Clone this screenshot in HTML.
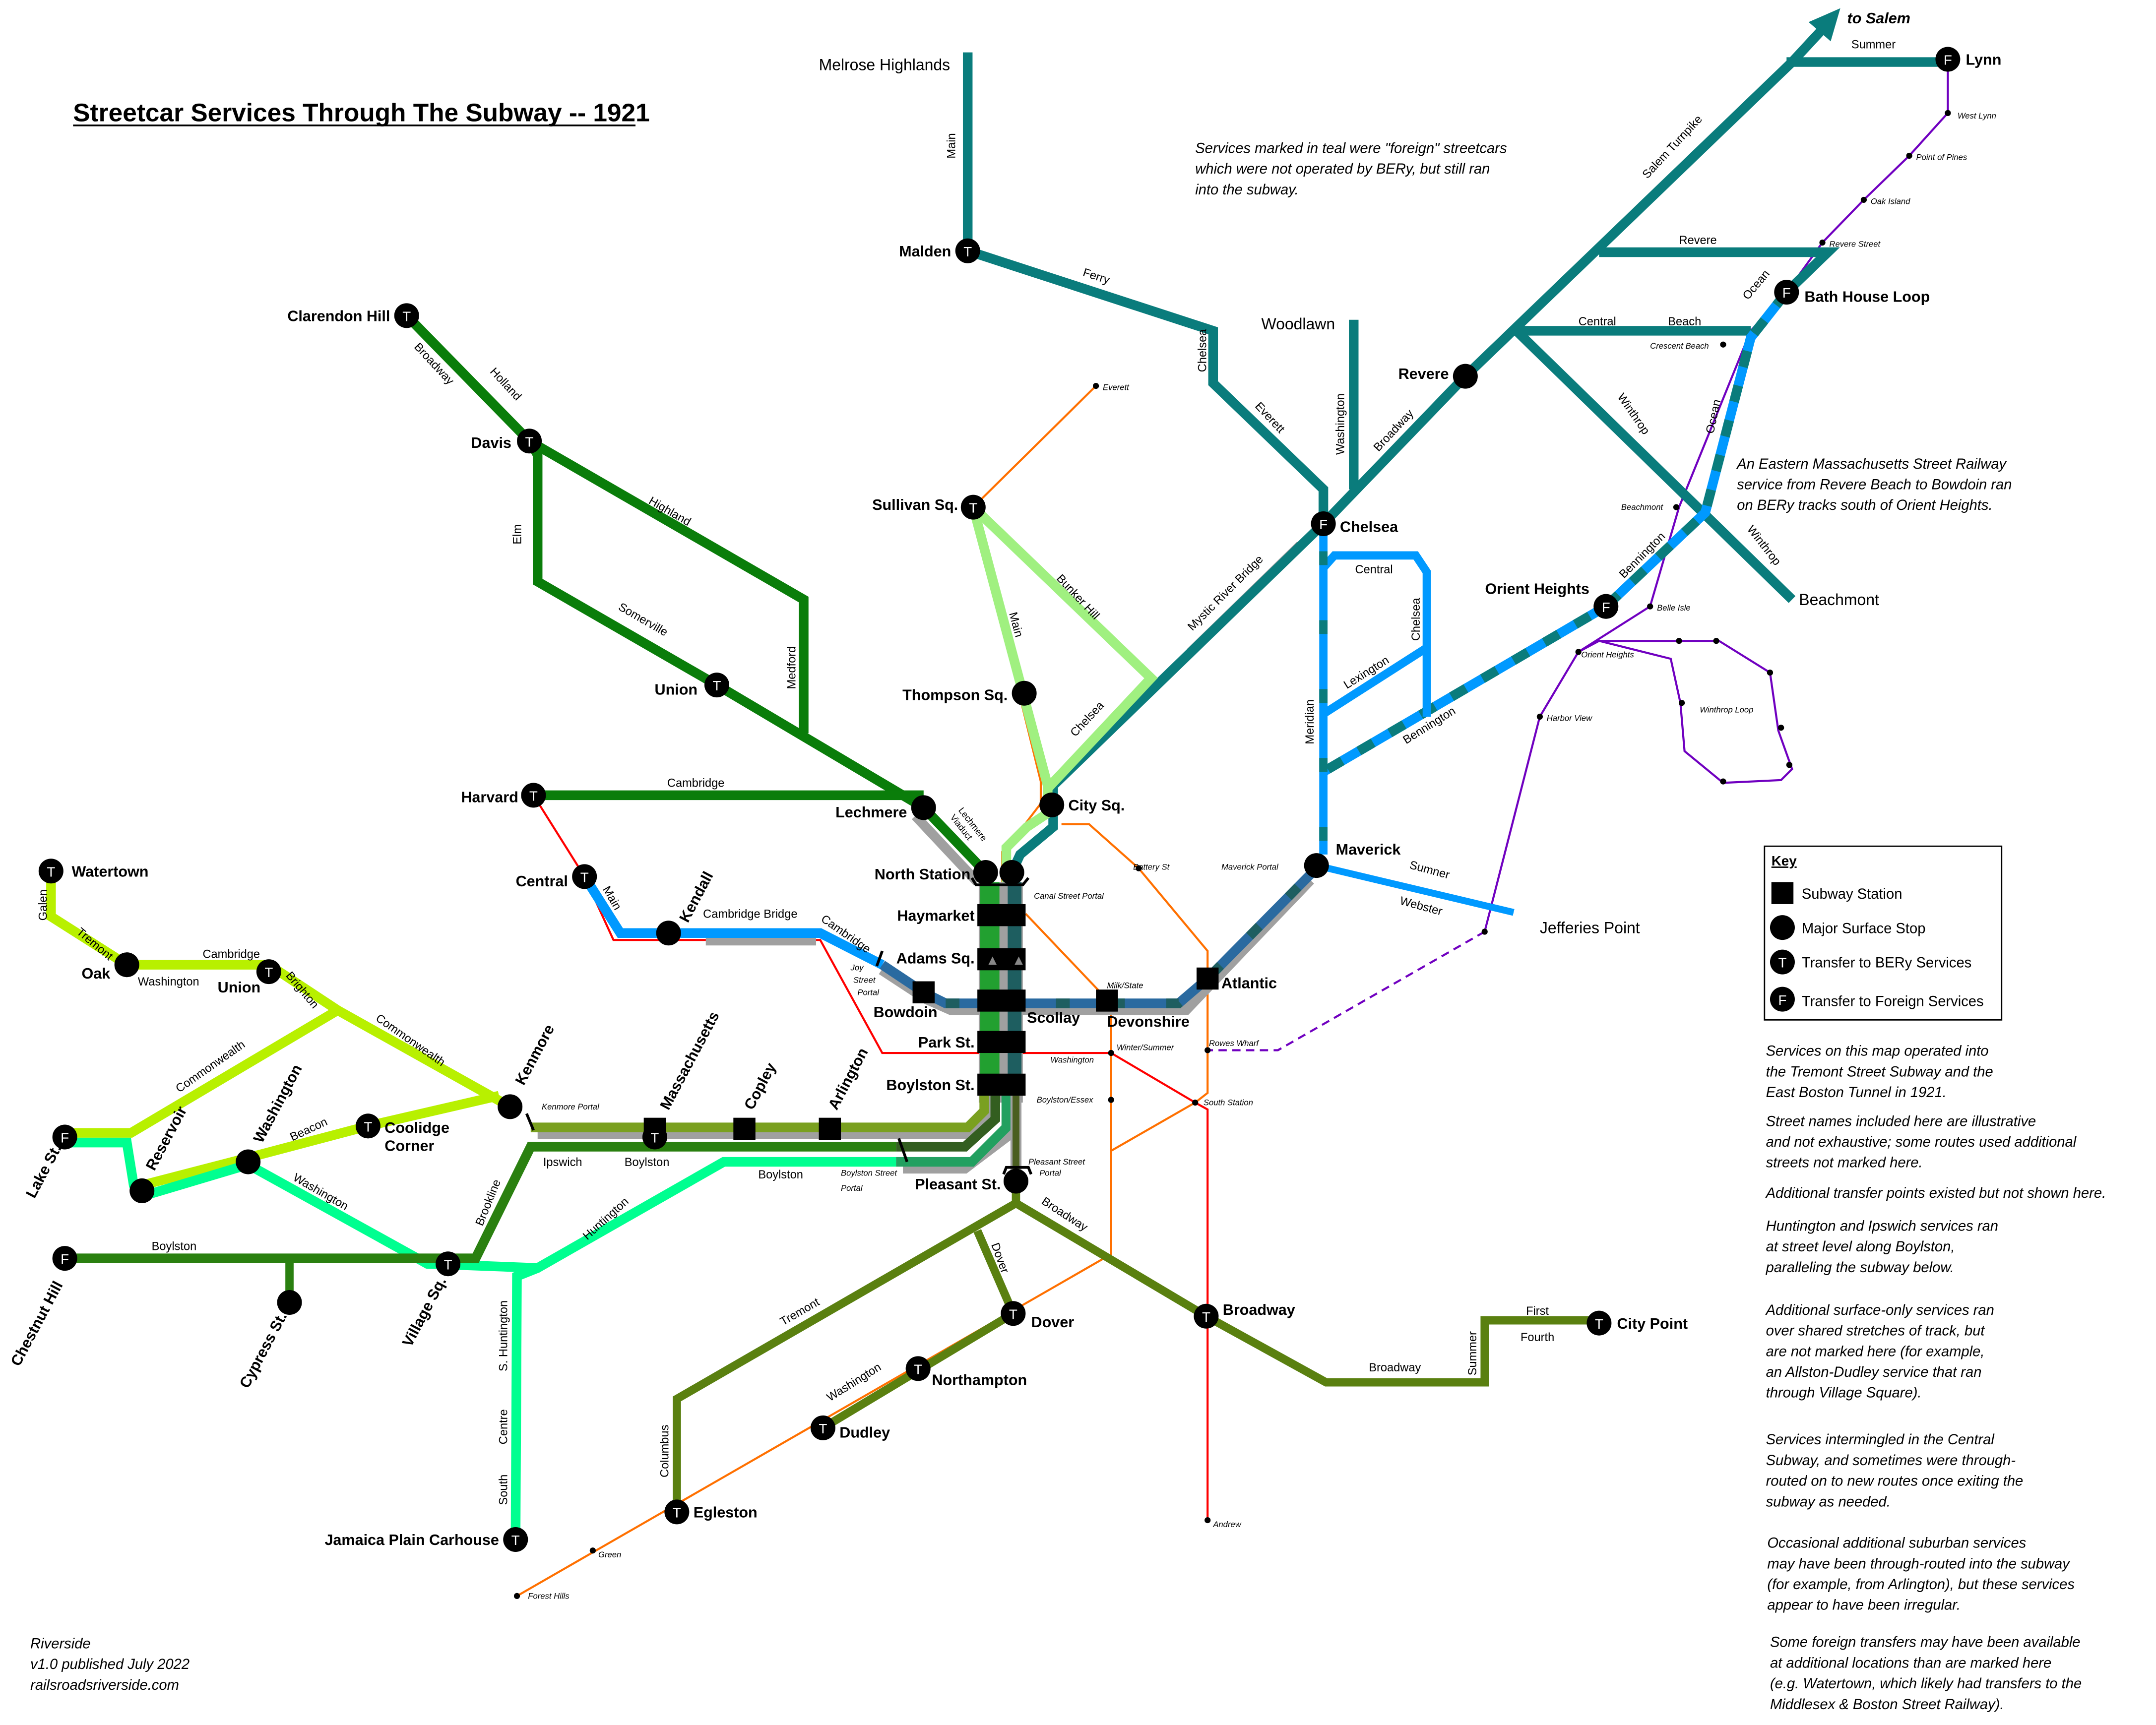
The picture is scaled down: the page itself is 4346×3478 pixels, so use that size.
<!DOCTYPE html>
<html><head><meta charset="utf-8"><style>
html,body{margin:0;padding:0;background:#fff;}
svg{display:block;}
text{font-family:"Liberation Sans","DejaVu Sans",sans-serif;}
.b{font-weight:bold;font-size:11px;}
.s{font-size:8.5px;}
.i{font-style:italic;font-size:6px;}
.n{font-style:italic;font-size:10.5px;}
</style></head><body>
<svg width="4346" height="3478" viewBox="0 0 1564 1251.6" preserveAspectRatio="none" xmlns="http://www.w3.org/2000/svg">
<rect width="1564" height="1252" fill="#fff"/>
<g fill="none" stroke-linejoin="miter">
<polyline stroke="#ff7000" stroke-width="1.5" points="795,280 706,368 755,567 755,583 742,600 727,618 727,640"/>
<polyline stroke="#ff7000" stroke-width="1.5" points="770,598 790,598 826,630 876,690 876,793 867,800 806,835"/>
<polyline stroke="#ff7000" stroke-width="1.5" points="744,663 803,725 806,725 806,910 375,1158"/>
<polyline stroke="#ff0000" stroke-width="1.5" points="387,577 424,636 445,682 595,682 640,764 806,764 867,800 876,805 876,1103"/>
<polyline stroke="#7000c0" stroke-width="1.5" points="1413,43 1413,82 1385,113 1352,145 1322,176 1296,212 1270,240 1218,368 1197,440 1145,473 1117,520 1077,676"/>
<polyline stroke="#7000c0" stroke-width="1.5" stroke-dasharray="6,4" points="1077,676 927,762 876,762"/>
<polyline stroke="#7000c0" stroke-width="1.5" points="1145,473 1160,465 1247,465 1284,488 1290,530 1300,558 1292,566 1250,568 1222,545 1219,510 1212,478 1160,465"/>
<polyline stroke="#0a7d0a" stroke-width="7" points="295,229 384,320 583,435 583,532"/>
<polyline stroke="#0a7d0a" stroke-width="7" points="384,320 390,330 390,422 520,497 670,586"/>
<polyline stroke="#0a7d0a" stroke-width="7" points="387,577 670,577"/>
<polyline stroke="#a0a0a0" stroke-width="7" points="664,592 709,640"/>
<polyline stroke="#0a7d0a" stroke-width="7" points="670,586 715,633"/>
<polyline stroke="#0a7c7c" stroke-width="7" points="702,38 702,182 880,240 880,278 960,355 960,380"/>
<polyline stroke="#0a7c7c" stroke-width="7" points="982,232 982,355"/>
<polyline stroke="#0a7c7c" stroke-width="7" points="960,380 1063,273 1300,45 1325,18"/>
<polygon fill="#0a7c7c" stroke="none" points="1335,6 1312,16 1328,30"/>
<polyline stroke="#0a7c7c" stroke-width="7" points="1296,45 1413,45"/>
<polyline stroke="#0a7c7c" stroke-width="7" points="1160,183 1326,183 1296,212"/>
<polyline stroke="#0a7c7c" stroke-width="7" points="1100,240 1270,240"/>
<polyline stroke="#0a7c7c" stroke-width="7" points="1100,240 1300,435"/>
<polyline stroke="#0099ff" stroke-width="7" points="1296,212 1270,245 1237,372 1165,440 960,560"/>
<polyline stroke="#0a7c7c" stroke-width="7" stroke-dasharray="12,14" points="1296,212 1270,245 1237,372 1165,440 960,560"/>
<polyline stroke="#a0a0a0" stroke-width="3" points="862,472 942,394"/>
<polyline stroke="#0a7c7c" stroke-width="7" points="960,380 764,570 764,600 740,620 734,633"/>
<polyline stroke="#a0f080" stroke-width="7" points="706,368 760,570"/>
<polyline stroke="#a0f080" stroke-width="7" points="706,368 835,492 760,572 760,590 745,600 730,615 730,645"/>
<polyline stroke="#0099ff" stroke-width="6" points="960,380 960,620"/>
<polyline stroke="#0099ff" stroke-width="6" points="960,412 968,403 1027,403 1035,415 1035,520"/>
<polyline stroke="#0099ff" stroke-width="6" points="960,518 1035,470"/>
<polyline stroke="#0a7c7c" stroke-width="6" stroke-dasharray="10,40" points="960,400 960,620"/>
<polyline stroke="#0099ff" stroke-width="5" points="955,628 1098,662"/>
<polyline stroke="#a0a0a0" stroke-width="8" points="512,682 592,682"/>
<polyline stroke="#0099ff" stroke-width="7" points="424,636 450,677 595,677 640,700"/>
<polyline stroke="#a0a0a0" stroke-width="9" points="640,703 672,724 690,732 860,732 950,638"/>
<polyline stroke="#2a6aa0" stroke-width="7" points="640,700 670,720 686,728 855,728 876,710 955,630"/>
<polyline stroke="#1e5e60" stroke-width="7" stroke-dasharray="10,30" points="686,728 855,728 876,710 955,630"/>
<polyline stroke="#b8f000" stroke-width="7" points="37,632 37,665 92,700 195,700 245,733 370,803"/>
<polyline stroke="#b8f000" stroke-width="7" points="245,733 95,822 47,822"/>
<polyline stroke="#b8f000" stroke-width="7" points="103,860 180,840 267,817 362,795"/>
<polyline stroke="#00ff90" stroke-width="7" points="47,829 92,829 97,860 103,868 180,845 310,917 390,920 525,843 650,843"/>
<polyline stroke="#00ff90" stroke-width="7" points="390,920 375,926 374,1117"/>
<polyline stroke="#2a8010" stroke-width="7" points="47,913 325,913 345,913 385,832 650,832"/>
<polyline stroke="#2a8010" stroke-width="6" points="210,913 210,945"/>
<rect x="710" y="640" width="32" height="160" fill="#a0a0a0" stroke="none"/>
<rect x="711" y="640" width="14" height="160" fill="#22a030" stroke="none"/>
<rect x="731" y="640" width="10" height="160" fill="#1e5e60" stroke="none"/>
<polyline stroke="#a0a0a0" stroke-width="9" points="390,822 705,822 720,808 720,795"/>
<polyline stroke="#7aa020" stroke-width="7" points="385,818 702,818 714,806 714,795"/>
<polyline stroke="#a0a0a0" stroke-width="7" points="655,848 700,848 737,820"/>
<polyline stroke="#335e20" stroke-width="7" points="650,832 700,832 722,812 722,795"/>
<polyline stroke="#22a060" stroke-width="7" points="650,843 705,843 730,818 730,795"/>
<polyline stroke="#a0a0a0" stroke-width="8" points="737,795 737,850"/>
<polyline stroke="#4a5e20" stroke-width="5" points="737,795 737,850"/>
<polyline stroke="#5a8010" stroke-width="6" points="737,860 737,873 491,1015 491,1097"/>
<polyline stroke="#5a8010" stroke-width="6" points="709,893 735,953 597,1036"/>
<polyline stroke="#5a8010" stroke-width="6" points="737,873 875,955 962,1003 1077,1003 1077,958 1160,958"/>
</g>
<g stroke="#000" stroke-width="2" fill="none">
<polyline points="705,637 708,642 742,642 746,637"/>
<polyline points="728,852 730,847 746,847 748,852"/>
<line x1="640" y1="690" x2="636" y2="701"/>
<line x1="382" y1="808" x2="387" y2="820"/>
<line x1="652" y1="826" x2="658" y2="843"/>
</g>
<g fill="#000">
<rect x="709" y="656" width="35" height="16"/><rect x="709" y="688" width="35" height="16"/>
<rect x="709" y="718" width="35" height="16"/><rect x="709" y="748" width="35" height="16"/>
<rect x="709" y="779" width="35" height="16"/>
<rect x="662" y="712" width="16" height="16"/><rect x="795" y="718" width="16" height="16"/>
<rect x="868" y="702" width="16" height="16"/>
<rect x="532" y="811" width="16" height="16"/><rect x="594" y="811" width="16" height="16"/>
<rect x="467" y="811" width="16" height="16"/>
</g>
<polygon fill="#888" points="717,700 720,694 723,700"/><polygon fill="#888" points="736,700 739,694 742,700"/>
<g fill="#000">
<circle cx="670" cy="586" r="9"/><circle cx="485" cy="677" r="9"/>
<circle cx="715" cy="633" r="9"/><circle cx="734" cy="633" r="9"/>
<circle cx="763" cy="584" r="9"/><circle cx="743" cy="503" r="9"/>
<circle cx="1063" cy="273" r="9"/><circle cx="955" cy="628" r="9"/>
<circle cx="92" cy="700" r="9"/><circle cx="370" cy="803" r="9"/>
<circle cx="103" cy="864" r="9"/><circle cx="180" cy="843" r="9"/>
<circle cx="210" cy="945" r="9"/><circle cx="737" cy="857" r="9"/>
</g>
<g fill="#000">
<circle cx="795" cy="280" r="2.2"/><circle cx="826" cy="630" r="2.2"/><circle cx="806" cy="764" r="2.2"/>
<circle cx="806" cy="798" r="2.2"/><circle cx="867" cy="800" r="2.2"/><circle cx="876" cy="762" r="2.2"/>
<circle cx="876" cy="1103" r="2.2"/><circle cx="430" cy="1125" r="2.2"/><circle cx="375" cy="1158" r="2.2"/>
<circle cx="1413" cy="82" r="2.2"/><circle cx="1385" cy="113" r="2.2"/><circle cx="1352" cy="145" r="2.2"/>
<circle cx="1322" cy="176" r="2.2"/><circle cx="1250" cy="250" r="2.2"/><circle cx="1216" cy="368" r="2.2"/>
<circle cx="1197" cy="440" r="2.2"/><circle cx="1145" cy="473" r="2.2"/><circle cx="1117" cy="520" r="2.2"/>
<circle cx="1077" cy="676" r="2.2"/><circle cx="1218" cy="465" r="2.2"/><circle cx="1245" cy="465" r="2.2"/>
<circle cx="1284" cy="488" r="2.2"/><circle cx="1292" cy="528" r="2.2"/><circle cx="1298" cy="555" r="2.2"/>
<circle cx="1250" cy="567" r="2.2"/><circle cx="1220" cy="510" r="2.2"/>
</g>
<g font-family="Liberation Sans,sans-serif" font-size="10" text-anchor="middle">
<g fill="#000">
<circle cx="295" cy="229" r="9"/><circle cx="384" cy="320" r="9"/><circle cx="520" cy="497" r="9"/>
<circle cx="387" cy="577" r="9"/><circle cx="424" cy="636" r="9"/><circle cx="706" cy="368" r="9"/>
<circle cx="702" cy="182" r="9"/><circle cx="37" cy="632" r="9"/><circle cx="195" cy="705" r="9"/>
<circle cx="267" cy="817" r="9"/><circle cx="475" cy="825" r="9"/><circle cx="325" cy="917" r="9"/>
<circle cx="374" cy="1117" r="9"/><circle cx="735" cy="953" r="9"/><circle cx="666" cy="993" r="9"/>
<circle cx="597" cy="1036" r="9"/><circle cx="491" cy="1097" r="9"/><circle cx="875" cy="955" r="9"/>
<circle cx="1160" cy="960" r="9"/>
<circle cx="960" cy="380" r="9"/><circle cx="1165" cy="440" r="9"/><circle cx="1296" cy="212" r="9"/>
<circle cx="1413" cy="43" r="9"/><circle cx="47" cy="825" r="9"/><circle cx="47" cy="913" r="9"/>
</g>
<g fill="#fff">
<text x="295" y="233">T</text><text x="384" y="324">T</text><text x="520" y="501">T</text>
<text x="387" y="581">T</text><text x="424" y="640">T</text><text x="706" y="372">T</text>
<text x="702" y="186">T</text><text x="37" y="636">T</text><text x="195" y="709">T</text>
<text x="267" y="821">T</text><text x="475" y="829">T</text><text x="325" y="921">T</text>
<text x="374" y="1121">T</text><text x="735" y="957">T</text><text x="666" y="997">T</text>
<text x="597" y="1040">T</text><text x="491" y="1101">T</text><text x="875" y="959">T</text>
<text x="1160" y="964">T</text>
<text x="960" y="384">F</text><text x="1165" y="444">F</text><text x="1296" y="216">F</text>
<text x="1413" y="47">F</text><text x="47" y="829">F</text><text x="47" y="917">F</text>
</g></g>
<g class="b" fill="#000">
<text x="283" y="233" text-anchor="end">Clarendon Hill</text>
<text x="371" y="325" text-anchor="end">Davis</text>
<text x="506" y="504" text-anchor="end">Union</text>
<text x="376" y="582" text-anchor="end">Harvard</text>
<text x="412" y="643" text-anchor="end">Central</text>
<text x="658" y="593" text-anchor="end">Lechmere</text>
<text x="704" y="638" text-anchor="end">North Station</text>
<text x="775" y="588">City Sq.</text>
<text x="731" y="508" text-anchor="end">Thompson Sq.</text>
<text x="695" y="370" text-anchor="end">Sullivan Sq.</text>
<text x="690" y="186" text-anchor="end">Malden</text>
<text x="972" y="386">Chelsea</text>
<text x="1051" y="275" text-anchor="end">Revere</text>
<text x="1153" y="431" text-anchor="end">Orient Heights</text>
<text x="1309" y="219">Bath House Loop</text>
<text x="1426" y="47">Lynn</text>
<text x="969" y="620">Maverick</text>
<text x="886" y="717">Atlantic</text>
<text x="803" y="745">Devonshire</text>
<text x="680" y="738" text-anchor="end">Bowdoin</text>
<text x="707" y="668" text-anchor="end">Haymarket</text>
<text x="707" y="699" text-anchor="end">Adams Sq.</text>
<text x="745" y="742">Scollay</text>
<text x="707" y="760" text-anchor="end">Park St.</text>
<text x="707" y="791" text-anchor="end">Boylston St.</text>
<text x="726" y="863" text-anchor="end">Pleasant St.</text>
<text x="52" y="636">Watertown</text>
<text x="80" y="710" text-anchor="end">Oak</text>
<text x="189" y="720" text-anchor="end">Union</text>
<text x="279" y="822">Coolidge</text><text x="279" y="835">Corner</text>
<text x="362" y="1121" text-anchor="end">Jamaica Plain Carhouse</text>
<text x="748" y="963">Dover</text>
<text x="676" y="1005">Northampton</text>
<text x="609" y="1043">Dudley</text>
<text x="503" y="1101">Egleston</text>
<text x="887" y="954">Broadway</text>
<text x="1173" y="964">City Point</text>
<text x="1340" y="17" font-style="italic">to Salem</text>
<text transform="translate(499,670) rotate(-62)">Kendall</text>
<text transform="translate(380,788) rotate(-62)">Kenmore</text>
<text transform="translate(485,806) rotate(-62)">Massachusetts</text>
<text transform="translate(546,806) rotate(-62)">Copley</text>
<text transform="translate(607,806) rotate(-62)">Arlington</text>
<text transform="translate(112,850) rotate(-62)">Reservoir</text>
<text transform="translate(190,830) rotate(-62)">Washington</text>
<text transform="translate(25,870) rotate(-62)">Lake St.</text>
<text transform="translate(14,992) rotate(-62)">Chestnut Hill</text>
<text transform="translate(180,1008) rotate(-62)">Cypress St.</text>
<text transform="translate(298,978) rotate(-62)">Village Sq.</text>
</g>
<text x="915" y="239" font-size="11.5">Woodlawn</text>
<text x="594" y="51" font-size="11.5">Melrose Highlands</text>
<text x="1305" y="439" font-size="11.5">Beachmont</text>
<text x="1117" y="677" font-size="11.5">Jefferies Point</text>
<g class="s" fill="#000">
<text transform="translate(693,115) rotate(-90)">Main</text>
<text transform="translate(785,200) rotate(18)">Ferry</text>
<text transform="translate(875,270) rotate(-90)">Chelsea</text>
<text transform="translate(910,295) rotate(47)">Everett</text>
<text transform="translate(975,330) rotate(-90)">Washington</text>
<text transform="translate(1000,328) rotate(-47)">Broadway</text>
<text transform="translate(1195,130) rotate(-47)">Salem Turnpike</text>
<text x="1343" y="35">Summer</text>
<text x="1218" y="177">Revere</text>
<text x="1145" y="236">Central</text><text x="1210" y="236">Beach</text>
<text transform="translate(1268,218) rotate(-50)">Ocean</text>
<text transform="translate(1243,315) rotate(-78)">Ocean</text>
<text transform="translate(1173,288) rotate(55)">Winthrop</text>
<text transform="translate(1267,384) rotate(52)">Winthrop</text>
<text transform="translate(1178,420) rotate(-45)">Bennington</text>
<text transform="translate(1020,540) rotate(-32)">Bennington</text>
<text transform="translate(977,500) rotate(-32)">Lexington</text>
<text x="983" y="416">Central</text>
<text transform="translate(1030,465) rotate(-90)">Chelsea</text>
<text transform="translate(953,540) rotate(-90)">Meridian</text>
<text transform="translate(1022,630) rotate(15)">Sumner</text>
<text transform="translate(1015,656) rotate(15)">Webster</text>
<text transform="translate(865,458) rotate(-45)">Mystic River Bridge</text>
<text transform="translate(766,420) rotate(47)">Bunker Hill</text>
<text transform="translate(732,445) rotate(75)">Main</text>
<text transform="translate(780,535) rotate(-47)">Chelsea</text>
<text transform="translate(355,270) rotate(47)">Holland</text>
<text transform="translate(300,252) rotate(47)">Broadway</text>
<text transform="translate(470,365) rotate(30)">Highland</text>
<text transform="translate(448,442) rotate(30)">Somerville</text>
<text transform="translate(378,395) rotate(-90)">Elm</text>
<text transform="translate(577,500) rotate(-90)">Medford</text>
<text x="484" y="571">Cambridge</text>
<text transform="translate(695,588) rotate(52)" font-size="6.5">Lechmere</text>
<text transform="translate(689,593) rotate(52)" font-size="6.5">Viaduct</text>
<text transform="translate(437,645) rotate(60)">Main</text>
<text x="510" y="666">Cambridge Bridge</text>
<text transform="translate(595,668) rotate(35)">Cambridge</text>
<text transform="translate(34,668) rotate(-90)">Galen</text>
<text transform="translate(55,677) rotate(40)">Tremont</text>
<text x="147" y="695">Cambridge</text>
<text x="100" y="715">Washington</text>
<text transform="translate(207,708) rotate(50)">Brighton</text>
<text transform="translate(272,740) rotate(35)">Commonwealth</text>
<text transform="translate(130,793) rotate(-35)">Commonwealth</text>
<text transform="translate(212,828) rotate(-25)">Beacon</text>
<text transform="translate(212,856) rotate(30)">Washington</text>
<text x="110" y="907">Boylston</text>
<text transform="translate(350,890) rotate(-68)">Brookline</text>
<text x="394" y="846">Ipswich</text><text x="453" y="846">Boylston</text>
<text x="550" y="855">Boylston</text>
<text transform="translate(426,900) rotate(-42)">Huntington</text>
<text transform="translate(368,995) rotate(-90)">S. Huntington</text>
<text transform="translate(368,1048) rotate(-90)">Centre</text>
<text transform="translate(368,1092) rotate(-90)">South</text>
<text transform="translate(568,962) rotate(-30)">Tremont</text>
<text transform="translate(485,1072) rotate(-90)">Columbus</text>
<text transform="translate(719,903) rotate(70)">Dover</text>
<text transform="translate(602,1017) rotate(-32)">Washington</text>
<text transform="translate(755,873) rotate(33)">Broadway</text>
<text x="993" y="995">Broadway</text>
<text transform="translate(1071,998) rotate(-90)">Summer</text>
<text x="1107" y="954">First</text><text x="1103" y="973">Fourth</text>
</g>
<g class="i" fill="#000">
<text x="800" y="283">Everett</text><text x="822" y="631">Battery St</text>
<text x="750" y="652">Canal Street Portal</text>
<text x="886" y="631">Maverick Portal</text>
<text x="803" y="717">Milk/State</text>
<text x="810" y="762">Winter/Summer</text><text x="762" y="771">Washington</text>
<text x="752" y="800">Boylston/Essex</text><text x="873" y="802">South Station</text>
<text x="877" y="759">Rowes Wharf</text><text x="880" y="1108">Andrew</text>
<text x="434" y="1130">Green</text><text x="383" y="1160">Forest Hills</text>
<text x="617" y="704">Joy</text><text x="619" y="713">Street</text><text x="622" y="722">Portal</text>
<text x="393" y="805">Kenmore Portal</text>
<text x="610" y="853">Boylston Street</text><text x="610" y="864">Portal</text>
<text x="746" y="845">Pleasant Street</text><text x="754" y="853">Portal</text>
<text x="1420" y="86">West Lynn</text><text x="1390" y="116">Point of Pines</text>
<text x="1357" y="148">Oak Island</text><text x="1327" y="179">Revere Street</text>
<text x="1197" y="253">Crescent Beach</text><text x="1176" y="370">Beachmont</text>
<text x="1202" y="443">Belle Isle</text><text x="1147" y="477">Orient Heights</text>
<text x="1122" y="523">Harbor View</text><text x="1233" y="517">Winthrop Loop</text>
</g>
<text x="53" y="88" font-size="18.5" font-weight="bold">Streetcar Services Through The Subway -- 1921</text>
<line x1="53" y1="91" x2="461" y2="91" stroke="#000" stroke-width="1.3"/>
<g class="n" fill="#000">
<text x="867" y="111">Services marked in teal were "foreign" streetcars</text>
<text x="867" y="126">which were not operated by BERy, but still ran</text>
<text x="867" y="141">into the subway.</text>
<text x="1260" y="340">An Eastern Massachusetts Street Railway</text>
<text x="1260" y="355">service from Revere Beach to Bowdoin ran</text>
<text x="1260" y="370">on BERy tracks south of Orient Heights.</text>
<text x="1281" y="766">Services on this map operated into</text>
<text x="1281" y="781">the Tremont Street Subway and the</text>
<text x="1281" y="796">East Boston Tunnel in 1921.</text>
<text x="1281" y="817">Street names included here are illustrative</text>
<text x="1281" y="832">and not exhaustive; some routes used additional</text>
<text x="1281" y="847">streets not marked here.</text>
<text x="1281" y="869">Additional transfer points existed but not shown here.</text>
<text x="1281" y="893">Huntington and Ipswich services ran</text>
<text x="1281" y="908">at street level along Boylston,</text>
<text x="1281" y="923">paralleling the subway below.</text>
<text x="1281" y="954">Additional surface-only services ran</text>
<text x="1281" y="969">over shared stretches of track, but</text>
<text x="1281" y="984">are not marked here (for example,</text>
<text x="1281" y="999">an Allston-Dudley service that ran</text>
<text x="1281" y="1014">through Village Square).</text>
<text x="1281" y="1048">Services intermingled in the Central</text>
<text x="1281" y="1063">Subway, and sometimes were through-</text>
<text x="1281" y="1078">routed on to new routes once exiting the</text>
<text x="1281" y="1093">subway as needed.</text>
<text x="1282" y="1123">Occasional additional suburban services</text>
<text x="1282" y="1138">may have been through-routed into the subway</text>
<text x="1282" y="1153">(for example, from Arlington), but these services</text>
<text x="1282" y="1168">appear to have been irregular.</text>
<text x="1284" y="1195">Some foreign transfers may have been available</text>
<text x="1284" y="1210">at additional locations than are marked here</text>
<text x="1284" y="1225">(e.g. Watertown, which likely had transfers to the</text>
<text x="1284" y="1240">Middlesex &amp; Boston Street Railway).</text>
<text x="22" y="1196">Riverside</text>
<text x="22" y="1211">v1.0 published July 2022</text>
<text x="22" y="1226">railsroadsriverside.com</text>
</g>
<rect x="1280" y="614" width="172" height="126" fill="#fff" stroke="#000" stroke-width="1"/>
<text x="1285" y="628" font-size="10" font-weight="bold" text-decoration="underline">Key</text>
<rect x="1285" y="640" width="16" height="16" fill="#000"/>
<text x="1307" y="652" font-size="10.5">Subway Station</text>
<circle cx="1293" cy="673" r="9" fill="#000"/>
<text x="1307" y="677" font-size="10.5">Major Surface Stop</text>
<circle cx="1293" cy="698" r="9" fill="#000"/><text x="1293" y="702" font-size="10" fill="#fff" text-anchor="middle">T</text>
<text x="1307" y="702" font-size="10.5">Transfer to BERy Services</text>
<circle cx="1293" cy="725" r="9" fill="#000"/><text x="1293" y="729" font-size="10" fill="#fff" text-anchor="middle">F</text>
<text x="1307" y="730" font-size="10.5">Transfer to Foreign Services</text>
</svg>
</body></html>
